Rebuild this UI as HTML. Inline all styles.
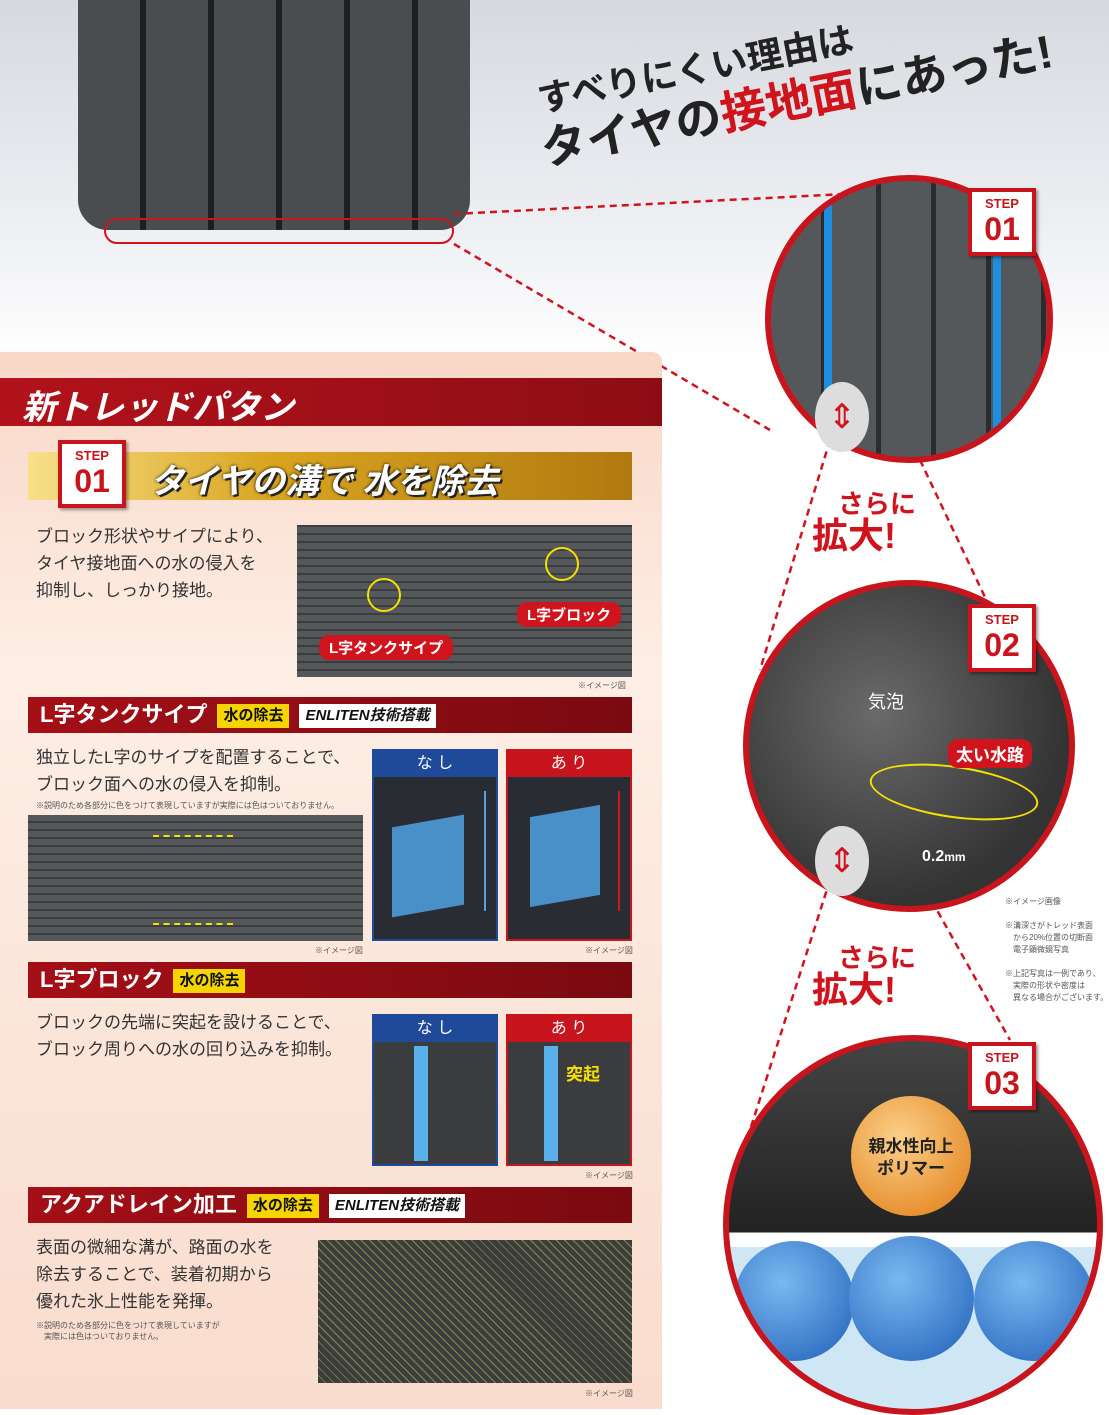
<!DOCTYPE html>
<html><head><meta charset="utf-8">
<style>
*{margin:0;padding:0;box-sizing:border-box}
body{width:1109px;height:1409px;position:relative;overflow:hidden;background:#fff;font-family:"Liberation Sans","Noto Sans CJK JP",sans-serif}
.abs{position:absolute}
.sec{position:absolute;left:28px;width:604px;height:36px;background:linear-gradient(90deg,#a50f17,#7a0a10);color:#fff;font-weight:bold;font-size:22px;padding:0 0 0 12px;line-height:36px;white-space:nowrap}
.tag{display:inline-block;font-size:15px;padding:0 6px;margin-left:10px;line-height:24px;vertical-align:middle}
.y{background:#f5d400;color:#111}
.w{background:#fff;color:#111;font-style:italic}
.txt{position:absolute;font-size:17px;color:#333;line-height:27px}
.note{position:absolute;font-size:8px;color:#555}
.step{position:absolute;width:68px;height:68px;background:#fff;border:4px solid #c8141d;text-align:center;color:#c8141d;font-weight:bold;box-shadow:2px 2px 3px rgba(0,0,0,.4)}
.step b{display:block;font-size:13px;line-height:16px;margin-top:4px}
.step i{display:block;font-style:normal;font-size:32px;line-height:34px}
.circ{position:absolute;border-radius:50%;border:6px solid #c8141d;overflow:hidden}
.red{color:#d0141d;font-weight:bold}
.img{position:absolute;overflow:hidden;background:
 repeating-linear-gradient(0deg,#55585b 0 6px,#3a3c3e 6px 8px),#444}
</style></head><body>
<div class="abs" style="left:0;top:0;width:1109px;height:360px;background:linear-gradient(180deg,#d6d9df 0%,#eceef2 60%,#fff 100%)"></div>
<div class="abs" style="left:78px;top:0;width:392px;height:230px;border-radius:0 0 30px 30px;background:repeating-linear-gradient(90deg,#4a4d50 0 62px,#1c1e20 62px 68px),#333"></div>
<div class="abs" style="left:104px;top:218px;width:350px;height:26px;border:2px solid #d0141d;border-radius:13px"></div>
<svg class="abs" style="left:0;top:0" width="1109" height="1409">
<g stroke="#d0141d" stroke-width="2.5" stroke-dasharray="7,5" fill="none">
<line x1="454" y1="214" x2="865" y2="193"/>
<line x1="454" y1="244" x2="770" y2="430"/>
<line x1="830" y1="440" x2="760" y2="670"/>
<line x1="920" y1="460" x2="1010" y2="650"/>
<line x1="830" y1="880" x2="750" y2="1130"/>
<line x1="920" y1="880" x2="1010" y2="1040"/>
</g></svg>
<div class="abs" style="left:528px;top:80px;transform:rotate(-11deg);transform-origin:left top;font-weight:bold;color:#222;white-space:nowrap">
<div style="font-size:36px;line-height:44px;margin-left:6px">すべりにくい理由は</div>
<div style="font-size:46px;line-height:54px">タイヤの<span style="color:#d0141d">接地面</span>にあった!</div>
</div>

<div class="abs" style="left:0;top:352px;width:662px;height:1057px;background:linear-gradient(180deg,#f9d7c7,#fdeee5 30%,#f9dccd);border-radius:0 10px 0 0"></div>
<div class="abs" style="left:0;top:378px;width:662px;height:48px;font-size:34px;font-style:italic;font-weight:bold;color:#fff;padding:2px 0 0 22px;background:linear-gradient(90deg,#b3121b,#8e0d14)">新トレッドパタン</div>
<div class="abs" style="left:28px;top:452px;width:604px;height:48px;background:linear-gradient(90deg,#f8e08a,#d9a520 40%,#b07a10 100%)"></div>
<div class="abs" style="left:150px;top:454px;font-size:34px;font-weight:bold;font-style:italic;color:#fff;text-shadow:2px 2px 0 #222,0 0 3px #000;white-space:nowrap">タイヤの溝で 水を除去</div>
<div class="step" style="left:58px;top:440px"><b>STEP</b><i>01</i></div>
<div class="txt" style="left:36px;top:523px">ブロック形状やサイプにより、<br>タイヤ接地面への水の侵入を<br>抑制し、しっかり接地。</div>
<div class="img" style="left:297px;top:525px;width:335px;height:152px">
<div class="abs" style="left:70px;top:53px;width:34px;height:34px;border:2px solid #f5e000;border-radius:50%"></div>
<div class="abs" style="left:248px;top:22px;width:34px;height:34px;border:2px solid #f5e000;border-radius:50%"></div>
<div class="abs" style="left:22px;top:110px;background:#d0141d;color:#fff;font-size:15px;font-weight:bold;padding:2px 10px;border-radius:10px">L字タンクサイプ</div>
<div class="abs" style="left:220px;top:77px;background:#d0141d;color:#fff;font-size:15px;font-weight:bold;padding:2px 10px;border-radius:10px">L字ブロック</div>
</div>
<div class="note" style="left:578px;top:680px">※イメージ図</div>

<div class="sec" style="top:697px">L字タンクサイプ<span class="tag y">水の除去</span><span class="tag w">ENLITEN技術搭載</span></div>
<div class="txt" style="left:36px;top:744px">独立したL字のサイプを配置することで、<br>ブロック面への水の侵入を抑制。</div>
<div class="note" style="left:36px;top:800px">※説明のため各部分に色をつけて表現していますが実際には色はついておりません。</div>
<div class="img" style="left:28px;top:815px;width:335px;height:126px">
<div class="abs" style="left:125px;top:20px;width:80px;height:90px;border:2px dashed #f5e000;border-width:2px 0"></div></div>
<div class="abs" style="left:372px;top:749px;width:126px;height:192px;background:#2a2c33;border:2px solid #1f4a9a">
<div style="background:#1f4a9a;color:#fff;text-align:center;font-size:16px;height:26px;line-height:26px">な し</div>
<div class="abs" style="left:18px;top:70px;width:72px;height:90px;background:#4a90c8;transform:skewY(-10deg)"></div>
<div class="abs" style="left:110px;top:40px;width:2px;height:120px;background:#5aa0d8"></div></div>
<div class="abs" style="left:506px;top:749px;width:126px;height:192px;background:#2a2c33;border:2px solid #c8141d">
<div style="background:#c8141d;color:#fff;text-align:center;font-size:16px;height:26px;line-height:26px">あ り</div>
<div class="abs" style="left:22px;top:60px;width:70px;height:90px;background:#4a90c8;transform:skewY(-10deg)"></div>
<div class="abs" style="left:110px;top:40px;width:2px;height:120px;background:#d0141d"></div></div>
<div class="note" style="left:315px;top:945px">※イメージ図</div><div class="note" style="left:585px;top:945px">※イメージ図</div>

<div class="sec" style="top:962px">L字ブロック<span class="tag y">水の除去</span></div>
<div class="txt" style="left:36px;top:1009px">ブロックの先端に突起を設けることで、<br>ブロック周りへの水の回り込みを抑制。</div>
<div class="abs" style="left:372px;top:1014px;width:126px;height:152px;background:#3a3c3e;border:2px solid #1f4a9a">
<div style="background:#1f4a9a;color:#fff;text-align:center;font-size:16px;height:26px;line-height:26px">な し</div>
<div class="abs" style="left:40px;top:30px;width:14px;height:115px;background:#5ab0e8"></div></div>
<div class="abs" style="left:506px;top:1014px;width:126px;height:152px;background:#3a3c3e;border:2px solid #c8141d">
<div style="background:#c8141d;color:#fff;text-align:center;font-size:16px;height:26px;line-height:26px">あ り</div>
<div class="abs" style="left:36px;top:30px;width:14px;height:115px;background:#5ab0e8"></div>
<div class="abs" style="left:58px;top:44px;color:#f5e000;font-size:17px;font-weight:bold">突起</div></div>
<div class="note" style="left:585px;top:1170px">※イメージ図</div>

<div class="sec" style="top:1187px">アクアドレイン加工<span class="tag y">水の除去</span><span class="tag w">ENLITEN技術搭載</span></div>
<div class="txt" style="left:36px;top:1234px">表面の微細な溝が、路面の水を<br>除去することで、装着初期から<br>優れた氷上性能を発揮。</div>
<div class="note" style="left:36px;top:1320px">※説明のため各部分に色をつけて表現していますが<br>　実際には色はついておりません。</div>
<div class="abs" style="left:318px;top:1240px;width:314px;height:143px;background:repeating-linear-gradient(45deg,#3a3c3e 0 5px,#8a8a40 5px 6px),#333"></div>
<div class="note" style="left:585px;top:1388px">※イメージ図</div>

<div class="circ" style="left:765px;top:175px;width:288px;height:288px;background:repeating-linear-gradient(90deg,#55585b 0 50px,#2a2c2e 50px 55px);border-color:#c8141d">
<div class="abs" style="left:53px;top:0;width:8px;height:288px;background:#1e8fe0"></div>
<div class="abs" style="left:222px;top:0;width:8px;height:288px;background:#1e8fe0"></div></div>
<div class="step" style="left:968px;top:188px"><b>STEP</b><i>01</i></div>
<div class="abs" style="left:815px;top:382px;width:54px;height:70px;border-radius:50%;background:#ddd;color:#d0141d;font-size:34px;text-align:center;line-height:70px">⇕</div>
<div class="abs red" style="left:812px;top:488px;font-size:26px;line-height:32px">　さらに<br><span style="font-size:36px">拡大!</span></div>

<div class="circ" style="left:743px;top:580px;width:332px;height:332px;background:radial-gradient(circle at 40% 40%,#6a6a6a,#333 70%)">
<div class="abs" style="left:120px;top:180px;width:170px;height:52px;border:2px solid #f5e000;border-radius:50%;transform:rotate(8deg)"></div></div>
<div class="step" style="left:968px;top:604px"><b>STEP</b><i>02</i></div>
<div class="abs" style="left:868px;top:688px;color:#fff;font-size:18px">気泡</div>
<div class="abs" style="left:948px;top:739px;background:#d0141d;color:#fff;font-size:17px;font-weight:bold;padding:2px 8px;border-radius:10px">太い水路</div>
<div class="abs" style="left:922px;top:848px;color:#fff;font-size:16px;font-weight:bold">0.2<span style="font-size:12px">mm</span></div>
<div class="abs" style="left:815px;top:826px;width:54px;height:70px;border-radius:50%;background:#ddd;color:#d0141d;font-size:34px;text-align:center;line-height:70px">⇕</div>
<div class="note" style="left:1005px;top:896px;line-height:12px">※イメージ画像<br><br>※溝深さがトレッド表面<br>　から20%位置の切断面<br>　電子顕微鏡写真<br><br>※上記写真は一例であり、<br>　実際の形状や密度は<br>　異なる場合がございます。</div>
<div class="abs red" style="left:812px;top:942px;font-size:26px;line-height:32px">　さらに<br><span style="font-size:36px">拡大!</span></div>

<div class="circ" style="left:723px;top:1035px;width:380px;height:380px;background:linear-gradient(180deg,#444 0%,#222 52%,#fff 52%,#fff 56%,#cfe6f5 56%)">
<div class="abs" style="left:5px;top:200px;width:120px;height:120px;border-radius:50%;background:radial-gradient(circle at 40% 35%,#7ab8f0,#1f5fb8)"></div>
<div class="abs" style="left:120px;top:195px;width:125px;height:125px;border-radius:50%;background:radial-gradient(circle at 40% 35%,#7ab8f0,#1f5fb8)"></div>
<div class="abs" style="left:245px;top:200px;width:120px;height:120px;border-radius:50%;background:radial-gradient(circle at 40% 35%,#7ab8f0,#1f5fb8)"></div>
<div class="abs" style="left:122px;top:55px;width:120px;height:120px;border-radius:50%;background:radial-gradient(circle at 40% 35%,#fbd08a,#e07a10);text-align:center;font-size:17px;font-weight:bold;color:#222;padding-top:40px;line-height:22px">親水性向上<br>ポリマー</div></div>
<div class="step" style="left:968px;top:1042px"><b>STEP</b><i>03</i></div>
</body></html>
